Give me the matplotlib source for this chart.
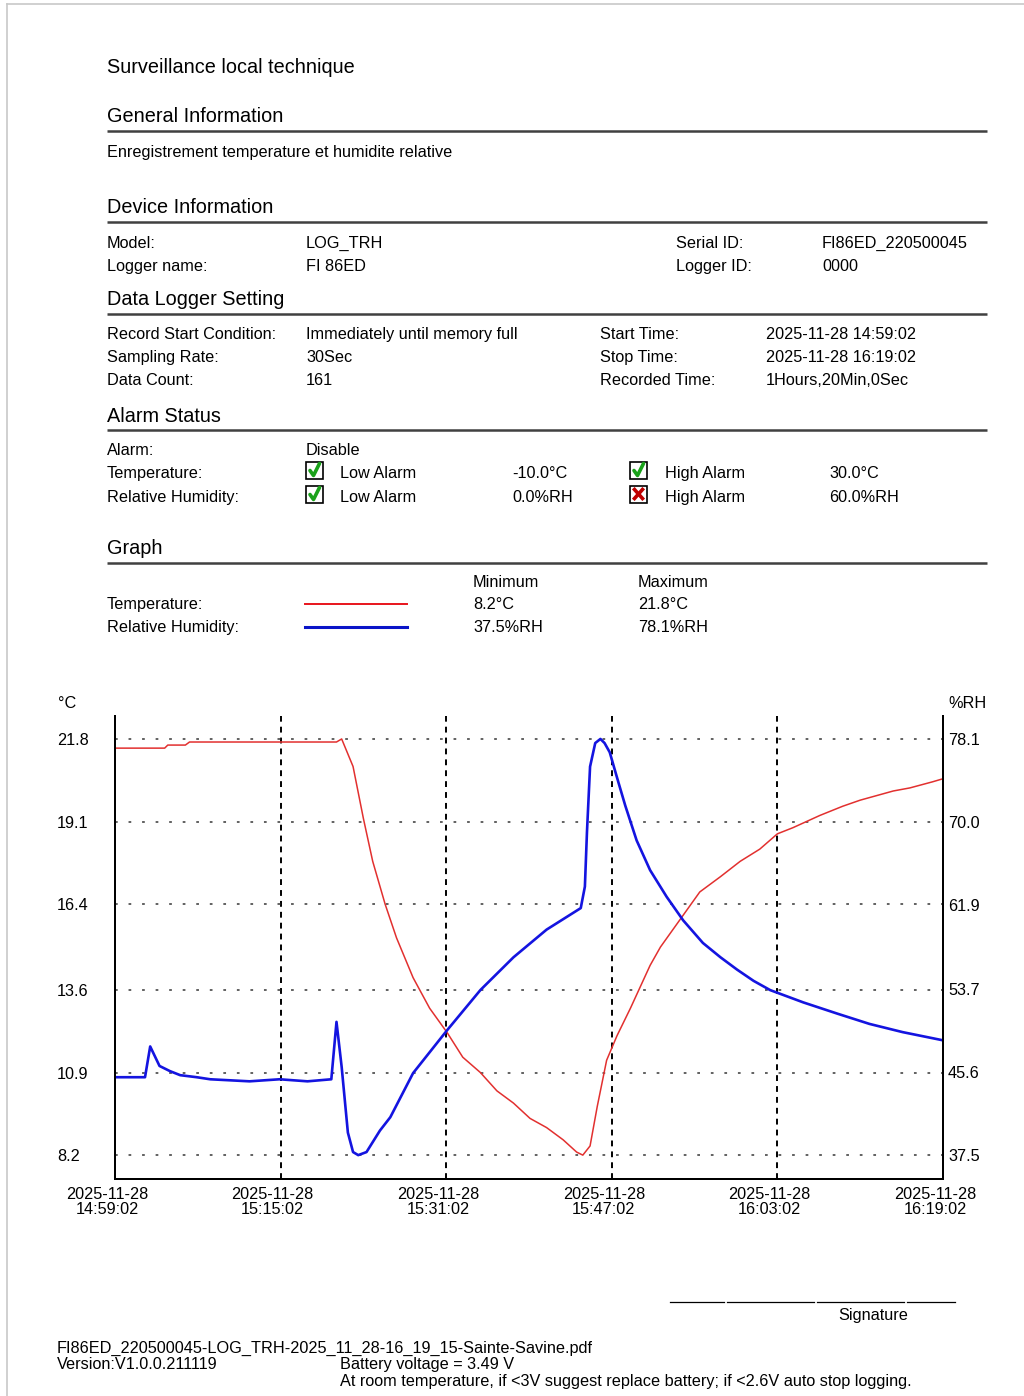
import matplotlib
matplotlib.use("Agg")
import matplotlib.pyplot as plt
from matplotlib.transforms import ScaledTranslation

plt.rcParams['font.family'] = ['Liberation Sans', 'DejaVu Sans']

W, H = 1024, 1396

# minutes after 2025-11-28 14:59:02
temp_min = [0, 4.8, 5.1, 6.8, 7.2, 21.4, 21.9, 23.0, 24.0, 24.9,
            26.1, 27.2, 28.8, 30.4, 32.1, 33.6, 35.3, 36.9, 38.5, 40.1,
            41.7, 43.3, 44.6, 45.2, 45.9, 46.6, 47.5, 48.5, 49.8, 51.7,
            52.7, 54.6, 56.5, 58.5, 60.4, 62.3, 64.0, 65.5, 68.1, 70.3,
            72.0, 75.2, 76.8, 79.0, 80.0]
temp_c = [21.5, 21.5, 21.6, 21.6, 21.7, 21.7, 21.8, 20.9, 19.2, 17.8,
          16.4, 15.3, 14.0, 13.0, 12.2, 11.4, 10.9, 10.3, 9.9, 9.4,
          9.1, 8.7, 8.3, 8.2, 8.5, 9.8, 11.3, 12.1, 13.0, 14.4,
          15.0, 15.9, 16.8, 17.3, 17.8, 18.2, 18.7, 18.9, 19.3, 19.6,
          19.8, 20.1, 20.2, 20.4, 20.5]

rh_min = [0, 2.9, 3.4, 4.3, 5.3, 6.3, 7.9, 9.2, 13.0, 15.9,
          18.6, 20.9, 21.4, 21.9, 22.5, 23.0, 23.5, 24.3, 25.6, 26.6,
          28.8, 32.1, 35.3, 38.5, 41.7, 45.0, 45.4, 45.6, 45.9, 46.4,
          46.9, 47.3, 47.8, 48.6, 49.3, 50.4, 51.7, 53.3, 54.9, 56.8,
          58.5, 60.1, 61.7, 63.3, 66.5, 69.8, 72.9, 76.1, 80.0]
rh_pct = [45.1, 45.1, 48.1, 46.2, 45.7, 45.3, 45.1, 44.9, 44.7, 44.9,
          44.7, 44.9, 50.5, 46.1, 39.7, 37.8, 37.5, 37.8, 39.9, 41.2,
          45.5, 49.7, 53.6, 56.8, 59.5, 61.6, 63.7, 69.0, 75.4, 77.7,
          78.1, 77.7, 76.8, 74.0, 71.6, 68.2, 65.3, 62.7, 60.4, 58.2,
          56.8, 55.6, 54.5, 53.6, 52.4, 51.3, 50.3, 49.5, 48.7]

x_ticks = [0, 16, 32, 48, 64, 80]
x_labels = ['2025-11-28\n14:59:02', '2025-11-28\n15:15:02', '2025-11-28\n15:31:02',
            '2025-11-28\n15:47:02', '2025-11-28\n16:03:02', '2025-11-28\n16:19:02']
t_ticks = [8.2, 10.9, 13.6, 16.4, 19.1, 21.8]
rh_ticks = [37.5, 45.6, 53.7, 61.9, 70.0, 78.1]

BODY = 11.7
HEAD = 14.3

fig = plt.figure(figsize=(W / 100, H / 100), dpi=100)
page = fig.add_axes([0, 0, 1, 1])
page.set_xlim(0, W)
page.set_ylim(H, 0)
page.axis('off')


def txt(x, y, s, size=BODY, **kw):
    off = 7 if size == HEAD else 6
    page.text(x, y + off, s, fontsize=size, va='baseline', ha='left', color='black', **kw)


def rule(y):
    page.plot([107, 987], [y, y], color='#404040', lw=1.8, solid_capstyle='butt')


def checkbox(x, y, ok):
    s = 17
    page.add_patch(plt.Rectangle((x, y - s / 2), s, s, fill=False, ec='black', lw=1.2))
    if ok:
        page.plot([x + 4, x + 7.5, x + 13.5], [y + 0.5, y + 5.5, y - 6.5],
                  color='#1aa21a', lw=2.6, solid_capstyle='round')
    else:
        page.plot([x + 4.5, x + 12.5], [y - 4.5, y + 4.5], color='#c00000', lw=2.6)
        page.plot([x + 4.5, x + 12.5], [y + 4.5, y - 4.5], color='#c00000', lw=2.6)


# page border
page.plot([7, W], [4, 4], color='#c8c8c8', lw=1.2)
page.plot([7, 7], [4, H], color='#c8c8c8', lw=1.2)

txt(107, 66, 'Surveillance local technique', HEAD)
txt(107, 115, 'General Information', HEAD)
rule(131)
txt(107, 151, 'Enregistrement temperature et humidite relative')

txt(107, 206, 'Device Information', HEAD)
rule(222)
txt(107, 242, 'Model:')
txt(306, 242, 'LOG_TRH')
txt(676, 242, 'Serial ID:')
txt(822, 242, 'FI86ED_220500045')
txt(107, 265, 'Logger name:')
txt(306, 265, 'FI 86ED')
txt(676, 265, 'Logger ID:')
txt(822, 265, '0000')

txt(107, 298, 'Data Logger Setting', HEAD)
rule(314)
txt(107, 333, 'Record Start Condition:')
txt(306, 333, 'Immediately until memory full')
txt(600, 333, 'Start Time:')
txt(766, 333, '2025-11-28 14:59:02')
txt(107, 356, 'Sampling Rate:')
txt(306, 356, '30Sec')
txt(600, 356, 'Stop Time:')
txt(766, 356, '2025-11-28 16:19:02')
txt(107, 379, 'Data Count:')
txt(306, 379, '161')
txt(600, 379, 'Recorded Time:')
txt(766, 379, '1Hours,20Min,0Sec')

txt(107, 415, 'Alarm Status', HEAD)
rule(430)
txt(107, 449, 'Alarm:')
txt(306, 449, 'Disable')
txt(107, 472, 'Temperature:')
checkbox(306, 470, True)
txt(340, 472, 'Low Alarm')
txt(512, 472, '-10.0°C')
checkbox(630, 470, True)
txt(665, 472, 'High Alarm')
txt(829, 472, '30.0°C')
txt(107, 496, 'Relative Humidity:')
checkbox(306, 494, True)
txt(340, 496, 'Low Alarm')
txt(512, 496, '0.0%RH')
checkbox(630, 494, False)
txt(665, 496, 'High Alarm')
txt(829, 496, '60.0%RH')

txt(107, 547, 'Graph', HEAD)
rule(563)
txt(473, 581, 'Minimum')
txt(638, 581, 'Maximum')
txt(107, 603, 'Temperature:')
page.plot([305, 407], [604, 604], color='#e8141c', lw=1.4)
txt(473, 603, f'{min(temp_c):.1f}°C')
txt(638, 603, f'{max(temp_c):.1f}°C')
txt(107, 626, 'Relative Humidity:')
page.plot([305, 407], [627, 627], color='#0a14c8', lw=2.2)
txt(473, 626, f'{min(rh_pct):.1f}%RH')
txt(638, 626, f'{max(rh_pct):.1f}%RH')

txt(58, 702, '°C')
txt(948, 702, '%RH')

# signature
for a, b in [(670, 724), (727, 814), (817, 904), (907, 955)]:
    page.plot([a, b], [1302, 1302], color='black', lw=0.9)
txt(838, 1314, 'Signature')

txt(57, 1347, 'FI86ED_220500045-LOG_TRH-2025_11_28-16_19_15-Sainte-Savine.pdf')
txt(57, 1363, 'Version:V1.0.0.211119')
txt(340, 1363, 'Battery voltage = 3.49 V')
txt(340, 1380, 'At room temperature, if <3V suggest replace battery; if <2.6V auto stop logging.')

# chart
ax = fig.add_axes([115 / W, 1 - 1179 / H, 828 / W, 463 / H])
ax.patch.set_alpha(0)
lo, hi = 7.42, 22.55
ax.set_xlim(0, 80)
ax.set_ylim(lo, hi)
ax.plot(temp_min, temp_c, color='#e2302f', lw=1.1, zorder=3)

ax.set_yticks(t_ticks, labels=[f'{v:.1f}' for v in t_ticks], ha='left', fontsize=BODY)
ax.tick_params(axis='y', length=0, pad=41.8)
ax.set_xticks(x_ticks, labels=x_labels, fontsize=BODY, linespacing=0.95)
ax.tick_params(axis='x', length=0, pad=6)
for lab in ax.get_xticklabels():
    lab.set_transform(lab.get_transform() + ScaledTranslation(-8 / 100, 0, fig.dpi_scale_trans))

ax.yaxis.grid(True, color='#555555', lw=1.3, linestyle=(0, (1.5, 6.0)))
ax.xaxis.grid(True, color='black', lw=1.4, linestyle=(0, (3.0, 2.6)))
ax.set_axisbelow(True)

ax2 = ax.twinx()
k = (rh_ticks[-1] - rh_ticks[0]) / (t_ticks[-1] - t_ticks[0])
ax2.set_ylim(rh_ticks[0] + (lo - t_ticks[0]) * k, rh_ticks[0] + (hi - t_ticks[0]) * k)
ax2.plot(rh_min, rh_pct, color='#1414e0', lw=1.9)
ax2.set_yticks(rh_ticks, labels=[f'{v:.1f}' for v in rh_ticks], fontsize=BODY)
ax2.tick_params(axis='y', length=0, pad=3.6)

for a in (ax, ax2):
    a.spines['top'].set_visible(False)
    for s in ('left', 'right', 'bottom'):
        a.spines[s].set_linewidth(1.4)
        a.spines[s].set_color('black')

fig.savefig('out.png', dpi=100, facecolor='white')
